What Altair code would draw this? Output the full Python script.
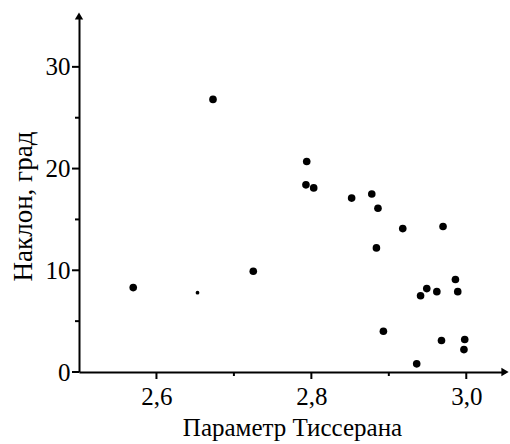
import altair as alt
import pandas as pd

# Tisserand parameter vs inclination
tisserand = [2.570, 2.653, 2.673, 2.725, 2.793, 2.794, 2.803, 2.852, 2.878, 2.884,
             2.886, 2.893, 2.918, 2.936, 2.941, 2.949, 2.962, 2.968, 2.970, 2.986,
             2.989, 2.997, 2.998]
inclination = [8.3, 7.8, 26.8, 9.9, 18.4, 20.7, 18.1, 17.1, 17.5, 12.2,
               16.1, 4.0, 14.1, 0.8, 7.5, 8.2, 7.9, 3.1, 14.3, 9.1,
               7.9, 2.2, 3.2]
dot_kind = ["big", "small"] + ["big"] * 21

x_major = [2.6, 2.8, 3.0]
x_minor = [2.7, 2.9]
y_major = [0, 10, 20, 30]
y_minor = [5, 15, 25]
x_domain = [2.5, 3.05]
y_domain = [0, 35]

W, H = 426, 356
px_x = (x_domain[1] - x_domain[0]) / W   # data units per pixel
px_y = (y_domain[1] - y_domain[0]) / H

df = pd.DataFrame({"T": tisserand, "i": inclination, "kind": dot_kind})
arrows = pd.DataFrame({"T": [x_domain[0], x_domain[1]], "i": [y_domain[1], y_domain[0]],
                       "shape": ["triangle-up", "triangle-right"]})
xt = pd.DataFrame({"T": x_major + x_minor,
                   "len": [7] * len(x_major) + [4] * len(x_minor)})
xt["i0"] = y_domain[0]
xt["i1"] = y_domain[0] - xt["len"] * px_y
yt = pd.DataFrame({"i": y_major + y_minor,
                   "len": [7] * len(y_major) + [4] * len(y_minor)})
yt["T0"] = x_domain[0]
yt["T1"] = x_domain[0] - yt["len"] * px_x

FONT = "Liberation Serif"
common = dict(
    domainColor="black", domainWidth=2, ticks=False,
    labelFont=FONT, labelFontSize=25, labelColor="black",
    titleFont=FONT, titleColor="black", titleFontWeight="normal", grid=False,
)

xscale = alt.Scale(domain=x_domain, nice=False, zero=False)
yscale = alt.Scale(domain=y_domain, nice=False)

xaxis = alt.Axis(
    values=x_major,
    title="Параметр Тиссерана",
    labelExpr="replace(format(datum.value, '.1f'), '.', ',')",
    labelPadding=12,
    titlePadding=6,
    titleFontSize=25,
    **common,
)
yaxis = alt.Axis(
    values=y_major,
    title="Наклон, град",
    format="d",
    labelPadding=9,
    titlePadding=8,
    titleY=190,
    titleFontSize=27,
    **common,
)

points = alt.Chart(df).mark_circle(color="black", opacity=1).encode(
    x=alt.X("T:Q", scale=xscale, axis=xaxis),
    y=alt.Y("i:Q", scale=yscale, axis=yaxis),
    size=alt.Size("kind:N", scale=alt.Scale(domain=["big", "small"], range=[58, 14]), legend=None),
)

arrow_marks = alt.Chart(arrows).mark_point(filled=True, color="black", opacity=1, size=70).encode(
    x=alt.X("T:Q", scale=xscale),
    y=alt.Y("i:Q", scale=yscale),
    shape=alt.Shape("shape:N", scale=None, legend=None),
)

x_tick_marks = alt.Chart(xt).mark_rule(color="black", strokeWidth=2).encode(
    x=alt.X("T:Q", scale=xscale),
    y=alt.Y("i0:Q", scale=yscale),
    y2="i1:Q",
)
y_tick_marks = alt.Chart(yt).mark_rule(color="black", strokeWidth=2).encode(
    y=alt.Y("i:Q", scale=yscale),
    x=alt.X("T0:Q", scale=xscale),
    x2="T1:Q",
)

chart = (
    alt.layer(points, arrow_marks, x_tick_marks, y_tick_marks)
    .properties(width=W, height=H, background="white",
                autosize=alt.AutoSizeParams(type="none"),
                padding={"left": 79, "top": 16, "right": 5, "bottom": 72})
    .configure_view(stroke=None)
)

chart.save("out.html", embed_options={"renderer": "svg", "actions": False})
